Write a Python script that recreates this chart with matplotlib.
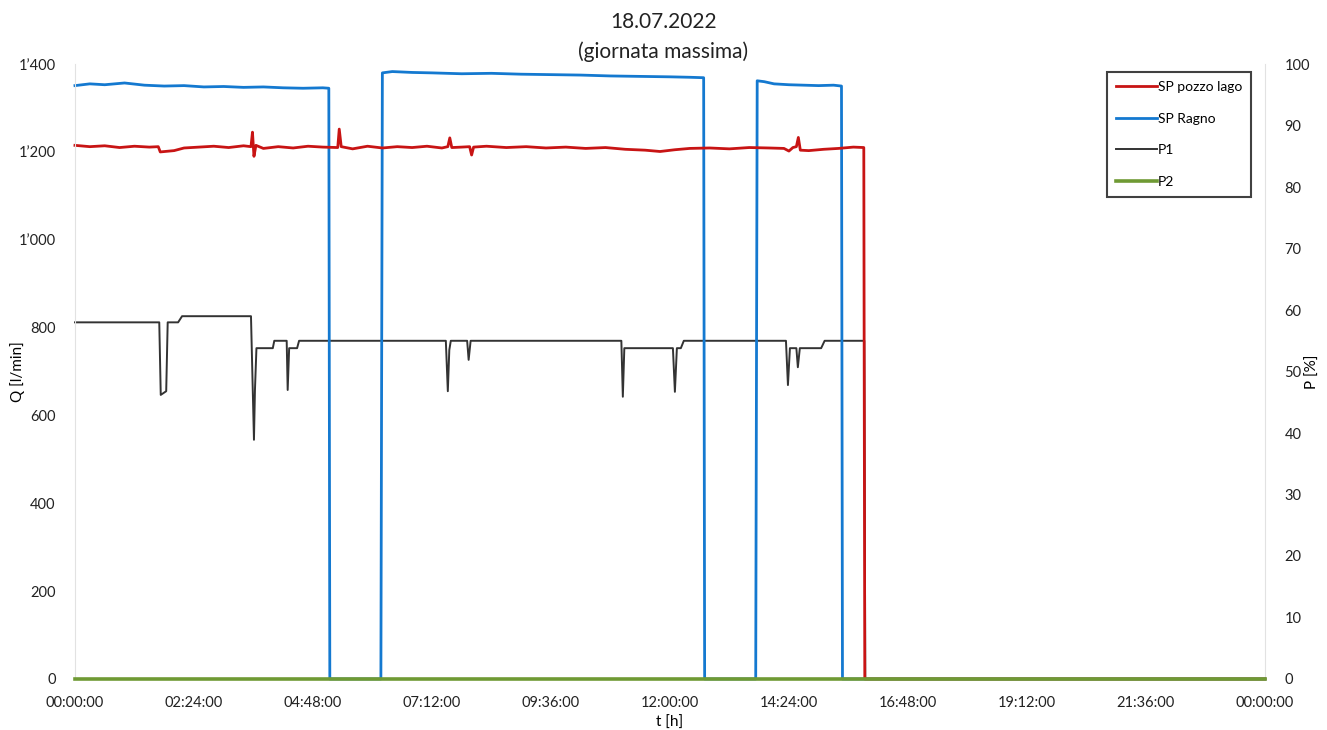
import numpy as np
import matplotlib
matplotlib.use("Agg")
import matplotlib.pyplot as plt
from matplotlib.ticker import FuncFormatter, MultipleLocator

plt.rcParams["font.family"] = ["Lato", "DejaVu Sans"]

# ── data (time in hours) ─────────────────────────────────────────────────────
t_ragno = [0.0, 0.3, 0.6, 1.0, 1.4, 1.8, 2.2, 2.6, 3.0, 3.4, 3.8, 4.2, 4.6, 5.0, 5.12,
           5.14, 6.17,
           6.20, 6.4, 6.8, 7.2, 7.8, 8.4, 9.0, 9.6, 10.2, 10.8, 11.4, 12.0, 12.4, 12.68,
           12.70, 13.73,
           13.76, 13.9, 14.1, 14.4, 14.7, 15.0, 15.3, 15.46,
           15.48, 24.0]
q_ragno = [1351, 1355, 1353, 1357, 1352, 1350, 1351, 1348, 1349, 1347, 1348, 1346, 1345, 1346, 1345,
           0, 0,
           1380, 1383, 1381, 1380, 1378, 1379, 1377, 1376, 1375, 1373, 1372, 1371, 1370, 1369,
           0, 0,
           1362, 1360, 1355, 1353, 1352, 1351, 1352, 1350,
           0, 0]

t_lago = [0.0, 0.3, 0.6, 0.9, 1.2, 1.5, 1.68, 1.72, 2.0, 2.2, 2.5, 2.8, 3.1, 3.4, 3.55,
          3.58, 3.61, 3.65, 3.8, 4.1, 4.4, 4.7, 5.0, 5.3, 5.33, 5.37, 5.6, 5.9, 6.2,
          6.5, 6.8, 7.1, 7.4, 7.52, 7.56, 7.60, 7.8, 7.96, 8.0, 8.04, 8.3, 8.7, 9.1,
          9.5, 9.9, 10.3, 10.7, 11.1, 11.5, 11.8, 12.1, 12.4, 12.8, 13.2, 13.6, 14.0,
          14.3, 14.4, 14.48, 14.55, 14.59, 14.63, 14.8, 15.1, 15.4, 15.7, 15.91,
          15.93, 24.0]
q_lago = [1215, 1212, 1214, 1210, 1213, 1211, 1212, 1200, 1203, 1209, 1211, 1213, 1210, 1214, 1212,
          1245, 1190, 1215, 1208, 1212, 1209, 1213, 1211, 1210, 1252, 1212, 1207, 1213, 1209,
          1212, 1210, 1213, 1209, 1212, 1232, 1210, 1211, 1212, 1193, 1211, 1213, 1210, 1212,
          1209, 1211, 1208, 1210, 1206, 1204, 1201, 1205, 1208, 1209, 1207, 1210, 1209,
          1208, 1202, 1210, 1212, 1233, 1204, 1203, 1206, 1208, 1211, 1210,
          0, 0]

t_p1 = [0.0, 1.70, 1.73, 1.84, 1.87, 2.08, 2.16, 3.55, 3.61, 3.63, 3.66, 3.99, 4.02,
        4.27, 4.29, 4.32, 4.48, 4.52, 7.48, 7.52, 7.55, 7.58, 7.91, 7.94, 7.98,
        11.02, 11.05, 11.08, 12.06, 12.10, 12.14, 12.22, 12.28, 14.34, 14.38,
        14.42, 14.55, 14.58, 14.62, 15.05, 15.12, 15.92, 15.94, 24.0]
p_p1 = [58.0, 58.0, 46.2, 46.8, 58.0, 58.0, 59.0, 59.0, 38.9, 47.0, 53.8, 53.8, 55.0,
        55.0, 47.0, 53.8, 53.8, 55.0, 55.0, 46.8, 53.5, 55.0, 55.0, 51.9, 55.0,
        55.0, 45.9, 53.8, 53.8, 46.7, 53.8, 53.8, 55.0, 55.0, 47.8,
        53.8, 53.8, 50.7, 53.8, 53.8, 55.0, 55.0, 0.0, 0.0]

t_p2 = [0.0, 24.0]
p_p2 = [0.0, 0.0]

# ── figure ───────────────────────────────────────────────────────────────────
fig = plt.figure(figsize=(13.27, 7.30), dpi=100)
ax = fig.add_axes([0.0565, 0.0699, 0.8967, 0.8423])
ax2 = ax.twinx()
ax3 = ax.twinx()
ax2.set_zorder(1)
ax.set_zorder(2)
ax3.set_zorder(3)
for a in (ax, ax3):
    a.patch.set_visible(False)

l_blue, = ax.plot(t_ragno, q_ragno, color="#1479d0", lw=2.0, label="SP Ragno", clip_on=False)
l_red, = ax.plot(t_lago, q_lago, color="#c81414", lw=2.0, label="SP pozzo lago", clip_on=False)
l_p1, = ax2.plot(t_p1, p_p1, color="#333333", lw=1.4, label="P1", clip_on=False)
l_p2, = ax3.plot(t_p2, p_p2, color="#6f9a34", lw=2.6, label="P2", clip_on=False)

ax.set_xlim(0, 24)
ax.set_ylim(0, 1400)
ax2.set_ylim(0, 100)
ax3.set_ylim(0, 100)

ax.xaxis.set_major_locator(MultipleLocator(2.4))
def fmt_time(x, pos):
    m = int(round(x * 60)) % (24 * 60)
    return f"{m // 60:02d}:{m % 60:02d}:00"
ax.xaxis.set_major_formatter(FuncFormatter(fmt_time))
ax.yaxis.set_major_locator(MultipleLocator(200))
ax.yaxis.set_major_formatter(FuncFormatter(
    lambda v, p: f"{int(v) // 1000}\u2019{int(v) % 1000:03d}" if v >= 1000 else f"{int(v)}"))
ax2.yaxis.set_major_locator(MultipleLocator(10))

ax.tick_params(axis="x", length=0, labelsize=10.5, colors="#222222", pad=12)
ax.tick_params(axis="y", length=0, labelsize=10.5, colors="#222222", pad=14)
ax2.tick_params(axis="y", length=0, labelsize=10.5, colors="#222222", pad=14)
ax3.set_yticks([])

for a in (ax, ax2, ax3):
    for s in a.spines.values():
        s.set_visible(False)
ax.spines["left"].set_visible(True)
ax.spines["left"].set_color("#e2e2e2")
ax2.spines["right"].set_visible(True)
ax2.spines["right"].set_color("#e2e2e2")

ax.set_ylabel("Q [l/min]", fontsize=11)
ax.yaxis.set_label_coords(-0.042, 0.5)
ax2.set_ylabel("P [%]", fontsize=11, rotation=90)
ax2.yaxis.set_label_coords(1.034, 0.5)
ax.set_xlabel("t [h]", fontsize=11)
ax.xaxis.set_label_coords(0.5, -0.06)

fig.text(0.5, 0.97, "18.07.2022", ha="center", va="center", fontsize=15, color="#222222")
fig.text(0.5, 0.929, "(giornata massima)", ha="center", va="center", fontsize=15, color="#222222")

leg = ax3.legend(handles=[l_red, l_blue, l_p1, l_p2], loc="upper right",
                 bbox_to_anchor=(0.9945, 0.998), fontsize=10, frameon=True,
                 fancybox=False, handlelength=2.9, handletextpad=0.1,
                 labelspacing=1.4, borderpad=0.65)
leg.get_frame().set_edgecolor("#111111")
leg.get_frame().set_linewidth(1.5)

plt.savefig("out.png", dpi=100)
